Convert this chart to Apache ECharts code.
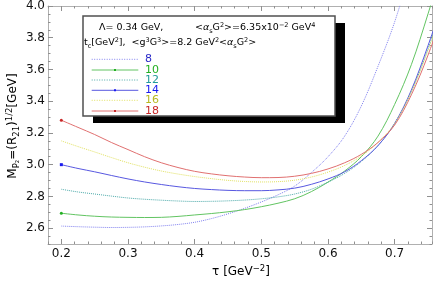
<!DOCTYPE html>
<html><head><meta charset="utf-8">
<script src="https://cdn.jsdelivr.net/npm/echarts@6/dist/echarts.min.js"></script>
<style>html,body{margin:0;padding:0;background:#fff}#c{width:436px;height:285px}</style>
</head><body><div id="c"></div>
<script>
const tau  = [0.200,0.225,0.250,0.275,0.300,0.325,0.350,0.375,0.400,0.425,0.450,0.475,0.500,0.525,0.550,0.575,0.600,0.625,0.650,0.675,0.700,0.725,0.750,0.775];
const tc8  = [2.613,2.609,2.606,2.604,2.605,2.608,2.614,2.623,2.637,2.660,2.690,2.725,2.765,2.810,2.865,2.950,3.050,3.180,3.370,3.620,3.900,4.250,4.650,5.100];
const tc10 = [2.694,2.683,2.675,2.670,2.668,2.667,2.668,2.674,2.683,2.692,2.703,2.717,2.735,2.757,2.785,2.830,2.890,2.960,3.050,3.180,3.380,3.630,3.950,4.300];
const tc12 = [2.845,2.828,2.815,2.802,2.790,2.782,2.776,2.771,2.768,2.769,2.772,2.777,2.785,2.797,2.815,2.845,2.890,2.945,3.020,3.120,3.260,3.460,3.730,4.050];
const tc14 = [3.000,2.976,2.955,2.932,2.910,2.891,2.875,2.861,2.850,2.843,2.838,2.836,2.836,2.841,2.852,2.876,2.910,2.955,3.025,3.120,3.260,3.470,3.750,4.060];
const tc16 = [3.150,3.114,3.080,3.045,3.012,2.984,2.960,2.941,2.925,2.912,2.901,2.894,2.891,2.893,2.902,2.922,2.953,2.995,3.055,3.140,3.260,3.460,3.720,4.020];
const tc18 = [3.280,3.235,3.190,3.140,3.095,3.050,3.012,2.982,2.958,2.942,2.930,2.922,2.918,2.919,2.927,2.945,2.973,3.012,3.065,3.140,3.250,3.440,3.690,3.990];
const seriesNames = ['8','10','12','14','16','18'];
const xTicks = [0.2,0.3,0.4,0.5,0.6,0.7];
const yTicks = [2.6,2.8,3.0,3.2,3.4,3.6,3.8,4.0];

const allVals = [tc8,tc10,tc12,tc14,tc16,tc18];
const colors = ['#8080ee','#62c462','#4aa8a8','#5858e0','#e0e060','#e07070'];
const labelColors = ['#2a2ac8','#22b022','#229a9a','#1a1af0','#b8b820','#c82828'];
const dashes = ['dotted','solid','dotted','solid','dotted','solid'];
const marks = [null,'circle',null,'rect',null,'circle'];

const chart = echarts.init(document.getElementById('c'));
const FONT = 'DejaVu Sans';
const frameColor = '#b0b0b0';
const tickColor = '#909090';

function xAx(pos, major){
  return {type:'value', min:0.18, max:0.756, position:pos,
    interval: major ? undefined : 0.02,
    axisLine:{show:major, lineStyle:{color:frameColor,width:1}},
    axisTick:major ? {show:true, inside:true, length:5, customValues:xTicks, lineStyle:{color:tickColor}}
                   : {show:true, inside:true, length:2.5, lineStyle:{color:tickColor}},
    axisLabel:(major && pos==='bottom') ? {show:true, customValues:xTicks, formatter:v=>v.toFixed(1), fontFamily:FONT, fontSize:12, color:'#111', margin:4} : {show:false},
    splitLine:{show:false}};
}
function yAx(pos, major){
  return {type:'value', min:2.5, max:4.0, position:pos,
    interval: major ? undefined : 0.05,
    axisLine:{show:major, lineStyle:{color:frameColor,width:1}},
    axisTick:major ? {show:true, inside:true, length:5, customValues:yTicks, lineStyle:{color:tickColor}}
                   : {show:true, inside:true, length:2.5, lineStyle:{color:tickColor}},
    axisLabel:(major && pos==='left') ? {show:true, customValues:yTicks, formatter:v=>v.toFixed(1), fontFamily:FONT, fontSize:12, color:'#111', margin:3} : {show:false},
    splitLine:{show:false}};
}

const series = allVals.map((vals,i)=>({
  name: seriesNames[i], type:'line', xAxisIndex:0, yAxisIndex:0,
  smooth:0.35, clip:true, symbol:'none', showSymbol:true, animation:false,
  lineStyle:{color:colors[i], width:1, type:dashes[i]},
  itemStyle:{color:labelColors[i]},
  data: vals.map((v,k)=> (k===0 && marks[i]) ? {value:[tau[k],v], symbol:marks[i], symbolSize:3} : [tau[k],v])
}));

// legend box graphics
const gx0 = 83, gy0 = 16, gw = 252, gh = 100;
const rowY = [59.3,70,80,90.3,100.3,111];
const graphics = [
  {type:'rect', shape:{x:gx0+10,y:gy0+7,width:gw,height:gh}, style:{fill:'#000'}, z:100},
  {type:'rect', shape:{x:gx0,y:gy0,width:gw,height:gh}, style:{fill:'#fff', stroke:'#505050', lineWidth:1.5}, z:101},
];
const rich = {
  n:{fontFamily:FONT,fontSize:9.5,color:'#222',lineHeight:13},
  i:{fontFamily:FONT,fontSize:9.5,color:'#222',fontStyle:'italic',lineHeight:13},
  sup:{fontFamily:FONT,fontSize:6.5,color:'#222',verticalAlign:'top',lineHeight:13},
  sub:{fontFamily:FONT,fontSize:6.5,color:'#222',verticalAlign:'bottom',lineHeight:13}
};
graphics.push({type:'text', x:99, y:28, z:102, style:{text:'{n|Λ= 0.34 GeV,}', rich:rich, verticalAlign:'middle'}});
graphics.push({type:'text', x:195, y:28, z:102, style:{text:'{n|<}{i|α}{sub|s}{n|G}{sup|2}{n|>=6.35x10}{sup|−2}{n| GeV}{sup|4}', rich:rich, verticalAlign:'middle'}});
graphics.push({type:'text', x:84, y:43, z:102, style:{text:'{n|t}{sub|c}{n|[GeV}{sup|2}{n|],  <g}{sup|3}{n|G}{sup|3}{n|>=8.2 GeV}{sup|2}{n|<}{i|α}{sub|s}{n|G}{sup|2}{n|>}', rich:rich, verticalAlign:'middle'}});
seriesNames.forEach((nm,i)=>{
  graphics.push({type:'line', z:102, shape:{x1:91.7,y1:rowY[i],x2:138.3,y2:rowY[i]}, style:{stroke:colors[i], lineWidth:1, lineDash: dashes[i]==='dotted'?[1,1.5]:null}});
  if (marks[i]) graphics.push({type:'rect', z:103, shape:{x:114,y:rowY[i]-1,width:2,height:2}, style:{fill:labelColors[i]}});
  graphics.push({type:'text', z:102, x:145, y:rowY[i], style:{text:nm, fill:labelColors[i], font:'11px '+FONT, verticalAlign:'middle'}});
});
// axis titles
const richT = {
  n:{fontFamily:FONT,fontSize:12,color:'#111',lineHeight:16},
  sup:{fontFamily:FONT,fontSize:8.5,color:'#111',verticalAlign:'top',lineHeight:16},
  sub:{fontFamily:FONT,fontSize:8.5,color:'#111',verticalAlign:'bottom',lineHeight:16}
};
graphics.push({type:'text', x:13, y:126, rotation:Math.PI/2, z:102, style:{text:'{n|M}{sub|P₂}{n|=(R}{sub|21}{n|)}{sup|1/2}{n|[GeV]}', rich:richT, align:'center', verticalAlign:'middle'}});
graphics.push({type:'text', x:241, y:272, z:102, style:{text:'{n|τ [GeV}{sup|−2}{n|]}', rich:richT, align:'center', verticalAlign:'middle'}});

chart.setOption({
  animation:false,
  backgroundColor:'#fff',
  grid:{left:48, right:4, top:5, bottom:41, containLabel:false},
  xAxis:[xAx('bottom',true), xAx('bottom',false), xAx('top',true), xAx('top',false)],
  yAxis:[yAx('left',true), yAx('left',false), yAx('right',true), yAx('right',false)],
  series: series,
  graphic: graphics
});
</script></body></html>
